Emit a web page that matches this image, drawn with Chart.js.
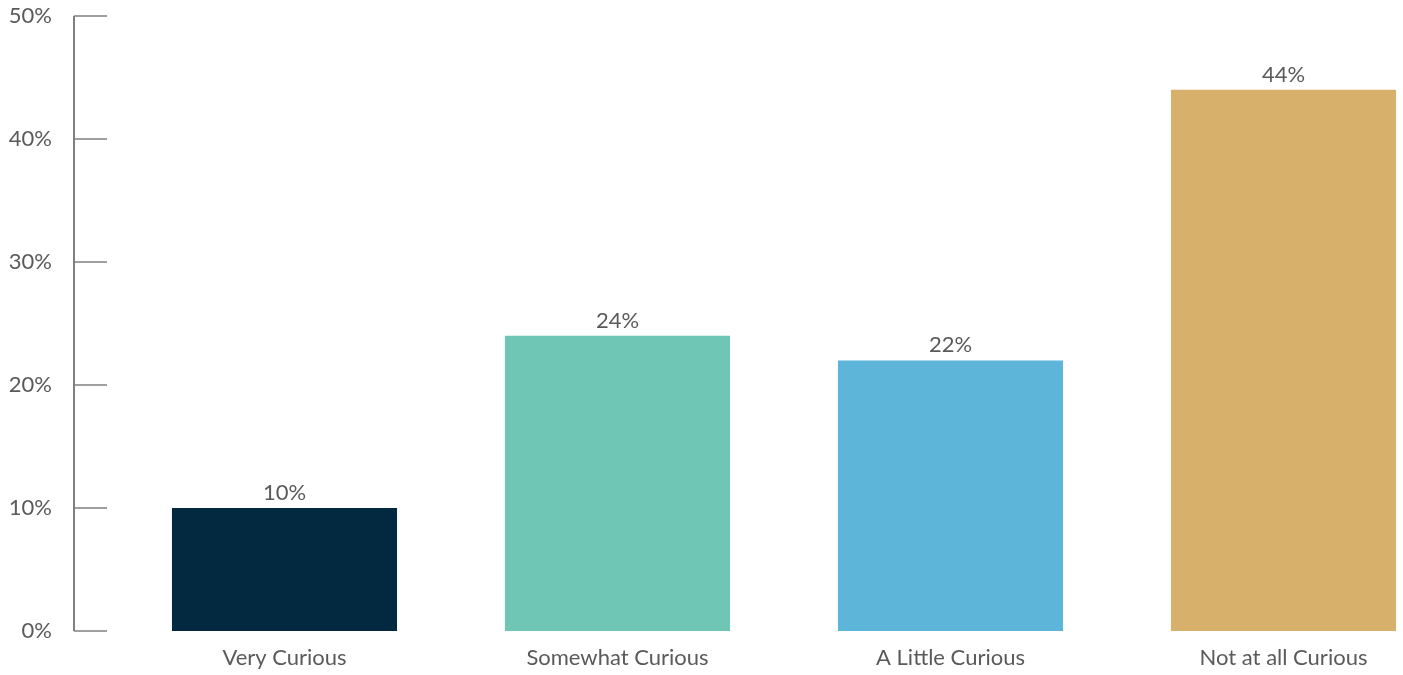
<!DOCTYPE html>
<html>
<head>
<meta charset="utf-8">
<script src="https://cdn.jsdelivr.net/npm/chart.js@4"></script>
<style>
  html, body { margin: 0; padding: 0; background: #fff; overflow: hidden; }
  /* the plot runs past the right edge of the window, as in the original crop */
  #wrap { position: relative; width: 1450px; height: 675px; }
</style>
</head>
<body>
<div id="wrap"><canvas id="chart"></canvas></div>
<script>
// data
const categories = ['Very Curious', 'Somewhat Curious', 'A Little Curious', 'Not at all Curious'];
const values = [10, 24, 22, 44];
const barColors = ['#02293f', '#70c6b4', '#5db5d9', '#d7b06b'];
const yTicks = [0, 10, 20, 30, 40, 50];

const TEXT_COLOR = '#5a5a5a';
const AXIS_COLOR = '#7f7f7f';
const FONT = { family: 'Lato', size: 22 };

// axis line at the left with short ticks pointing into the plot
const axisPlugin = {
  id: 'axisLine',
  afterDraw(chart) {
    const ctx = chart.ctx;
    const y = chart.scales.y;
    const left = chart.chartArea.left;
    const x0 = left - 44;
    const x1 = left - 11;
    ctx.save();
    ctx.strokeStyle = AXIS_COLOR;
    ctx.lineWidth = 2;
    ctx.beginPath();
    ctx.moveTo(x0, y.getPixelForValue(yTicks[yTicks.length - 1]));
    ctx.lineTo(x0, y.getPixelForValue(yTicks[0]));
    ctx.stroke();
    ctx.lineWidth = 1.5;
    yTicks.forEach(t => {
      const py = y.getPixelForValue(t);
      ctx.beginPath();
      ctx.moveTo(x0, py);
      ctx.lineTo(x1, py);
      ctx.stroke();
    });
    ctx.restore();
  }
};

// percentage labels above the bars
const valueLabels = {
  id: 'valueLabels',
  afterDatasetsDraw(chart) {
    const ctx = chart.ctx;
    const meta = chart.getDatasetMeta(0);
    ctx.save();
    ctx.fillStyle = TEXT_COLOR;
    ctx.font = `${FONT.size}px ${FONT.family}`;
    ctx.textAlign = 'center';
    ctx.textBaseline = 'bottom';
    meta.data.forEach((bar, i) => {
      ctx.fillText(values[i] + '%', bar.x, bar.y - 4);
    });
    ctx.restore();
  }
};

new Chart(document.getElementById('chart'), {
  type: 'bar',
  data: {
    labels: categories,
    datasets: [{
      data: values,
      backgroundColor: barColors,
      borderWidth: 0,
      barPercentage: 0.676,
      categoryPercentage: 1
    }]
  },
  options: {
    responsive: true,
    maintainAspectRatio: false,
    animation: false,
    layout: { padding: { top: 16, right: 0, left: 0, bottom: 0 } },
    plugins: {
      legend: { display: false },
      tooltip: { enabled: false }
    },
    scales: {
      x: {
        grid: { display: false, drawTicks: false },
        border: { display: false },
        afterFit: scale => { scale.height = 44; },
        ticks: {
          autoSkip: false,
          maxRotation: 0,
          padding: 14,
          color: TEXT_COLOR,
          font: FONT
        }
      },
      y: {
        min: 0,
        max: 50,
        // tickLength only spaces the labels from the plot, the marks are drawn by axisPlugin
        grid: { display: false, tickLength: 66 },
        border: { display: false },
        afterFit: scale => { scale.width = 118; },
        ticks: {
          stepSize: 10,
          padding: 0,
          color: TEXT_COLOR,
          font: FONT,
          callback: v => v + '%'
        }
      }
    }
  },
  plugins: [axisPlugin, valueLabels]
});
</script>
</body>
</html>
